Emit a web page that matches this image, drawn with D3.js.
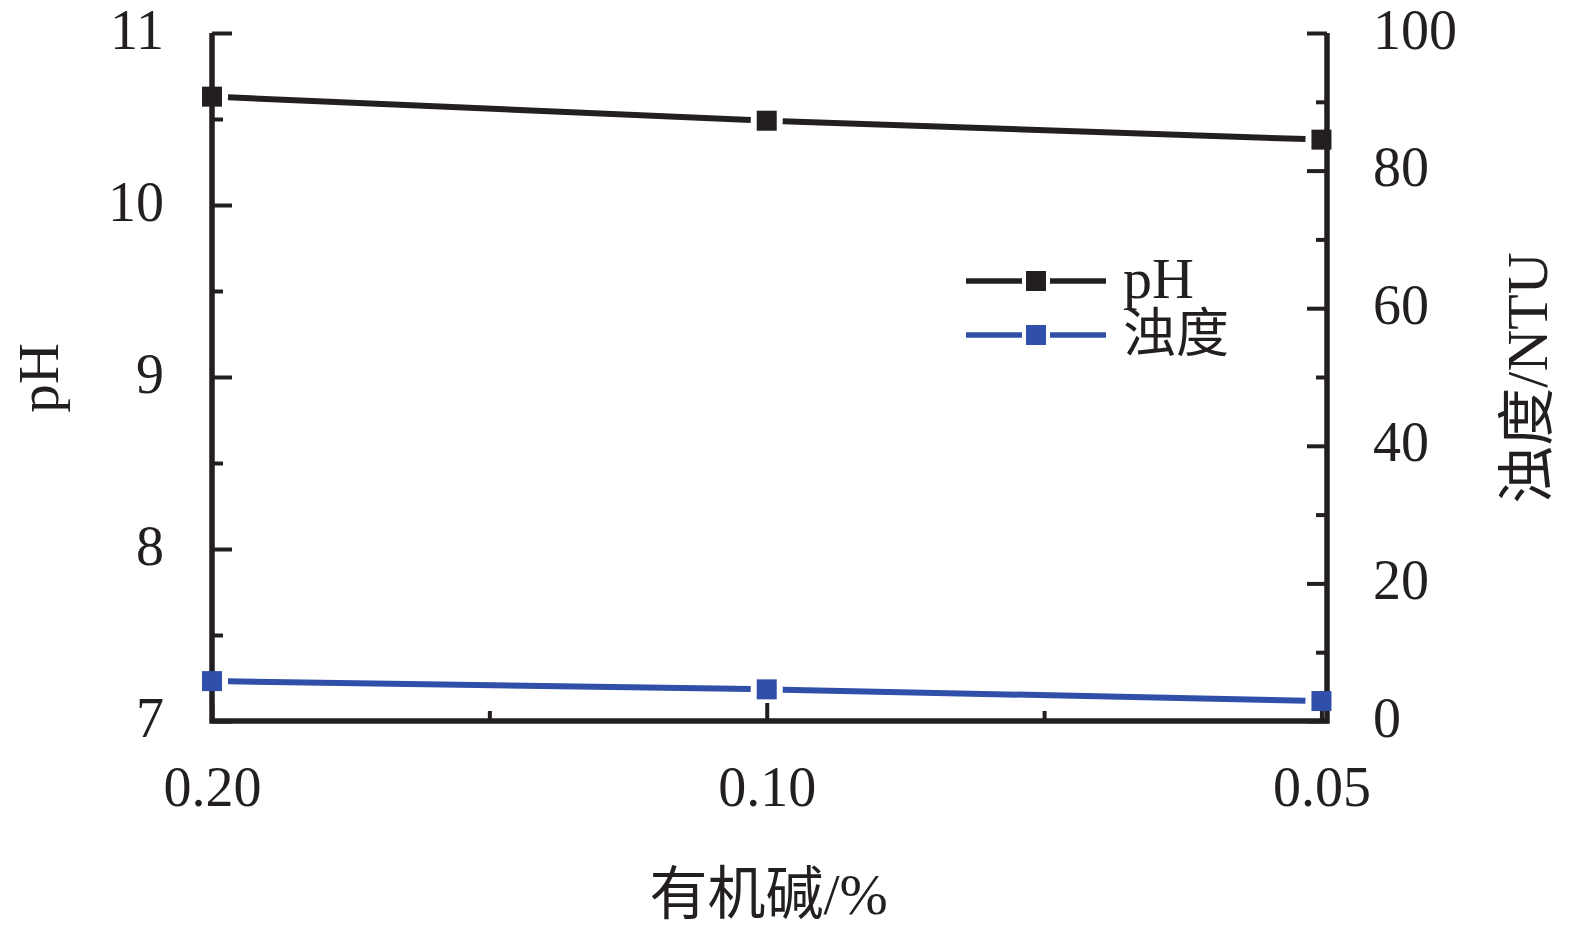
<!DOCTYPE html>
<html><head><meta charset="utf-8">
<script src="https://cdn.jsdelivr.net/npm/d3@7"></script>
<style>
body{margin:0;background:#fff}
text{font-family:"Liberation Serif","Times New Roman","Noto Sans CJK SC",serif;fill:#231f20}
</style></head>
<body><svg id="c" width="1575" height="936"></svg>
<script>
const categories = ["0.20", "0.10", "0.05"];
const phValues = [10.63, 10.49, 10.38];
const turbidityValues = [5.8, 4.6, 2.9];
const leftTicks = [7, 8, 9, 10, 11];
const leftMinor = [7.5, 8.5, 9.5, 10.5];
const rightTicks = [0, 20, 40, 60, 80, 100];
const rightMinor = [10, 30, 50, 70, 90];
const xMinor = [0.5, 1.5];
const seriesNames = ["pH", "浊度"];
const xTitle = "有机碱/%";
const yLeftTitle = "pH";
const yRightTitle = "浊度/NTU";

const BLACK = "#231f20", BLUE = "#2f4fa8";
const svg = d3.select("#c");
const x = d3.scaleLinear().domain([0, 2.01]).range([212, 1327]);
const yL = d3.scaleLinear().domain([7, 11]).range([721, 33]);
const yR = d3.scaleLinear().domain([0, 100]).range([721, 33]);
const FS = 56;

// frame (left, bottom, right)
const x0 = x(0), x1 = x(2.01), yb = yL(7), yt = yL(11);
svg.append("path")
  .attr("d", `M${x0},${yt}V${yb}H${x1}V${yt}`)
  .attr("fill", "none").attr("stroke", BLACK).attr("stroke-width", 5.5)
  .attr("stroke-linejoin", "miter");

function styleAxis(g) {
  g.select(".domain").remove();
  g.selectAll(".tick line").attr("stroke", BLACK).attr("stroke-width", 4);
  g.selectAll(".tick text").attr("font-size", FS).attr("fill", BLACK)
    .style("font-family", '"Liberation Serif","Times New Roman",serif');
}

// left axis
svg.append("g").attr("transform", `translate(${x0},0)`)
  .call(d3.axisLeft(yL).tickValues(leftTicks).tickSize(-20).tickSizeOuter(0).tickPadding(48).tickFormat(d3.format("d")))
  .call(styleAxis)
  .call(g => g.selectAll(".tick text").attr("dy", "0.27em"));
svg.append("g").attr("transform", `translate(${x0},0)`)
  .call(d3.axisLeft(yL).tickValues(leftMinor).tickSize(-11).tickSizeOuter(0).tickFormat(""))
  .call(styleAxis);

// right axis
svg.append("g").attr("transform", `translate(${x1},0)`)
  .call(d3.axisRight(yR).tickValues(rightTicks).tickSize(-20).tickSizeOuter(0).tickPadding(46).tickFormat(d3.format("d")))
  .call(styleAxis)
  .call(g => g.selectAll(".tick text").attr("dy", "0.27em"));
svg.append("g").attr("transform", `translate(${x1},0)`)
  .call(d3.axisRight(yR).tickValues(rightMinor).tickSize(-11).tickSizeOuter(0).tickFormat(""))
  .call(styleAxis);

// bottom axis
svg.append("g").attr("transform", `translate(0,${yb})`)
  .call(d3.axisBottom(x).tickValues([0, 1, 2]).tickSize(-18).tickSizeOuter(0).tickPadding(0).tickFormat(i => categories[i]))
  .call(styleAxis)
  .call(g => g.selectAll(".tick text").attr("dy", null).attr("y", 85));
svg.append("g").attr("transform", `translate(0,${yb})`)
  .call(d3.axisBottom(x).tickValues(xMinor).tickSize(-10).tickSizeOuter(0).tickFormat(""))
  .call(styleAxis);

// titles
svg.append("text").attr("x", x(1) + 2).attr("y", 914).attr("text-anchor", "middle")
  .attr("font-size", 58).text(xTitle);
svg.append("text").attr("transform", "translate(58,378) rotate(-90)")
  .attr("text-anchor", "middle").attr("font-size", 57).text(yLeftTitle);
svg.append("text").attr("transform", "translate(1547,378) rotate(-90)")
  .attr("text-anchor", "middle").attr("font-size", 58).text(yRightTitle);

// series
const MS = 20, GAP = 16, LW = 6;
function drawSeries(vals, yScale, color) {
  const pts = vals.map((v, i) => [x(i), yScale(v)]);
  const g = svg.append("g");
  for (let i = 0; i < pts.length - 1; i++) {
    const [ax, ay] = pts[i], [bx, by] = pts[i + 1];
    const L = Math.hypot(bx - ax, by - ay), ux = (bx - ax) / L, uy = (by - ay) / L;
    g.append("line")
      .attr("x1", ax + ux * GAP).attr("y1", ay + uy * GAP)
      .attr("x2", bx - ux * GAP).attr("y2", by - uy * GAP)
      .attr("stroke", color).attr("stroke-width", LW);
  }
  g.selectAll("rect").data(pts).join("rect")
    .attr("x", d => d[0] - MS / 2).attr("y", d => d[1] - MS / 2)
    .attr("width", MS).attr("height", MS).attr("fill", color);
}
drawSeries(phValues, yL, BLACK);
drawSeries(turbidityValues, yR, BLUE);

// legend
const legend = [
  {name: seriesNames[0], color: BLACK, y: 281, ty: 298, fs: 58},
  {name: seriesNames[1], color: BLUE, y: 335, ty: 352, fs: 53}
];
const lg = svg.append("g");
legend.forEach(d => {
  lg.append("line").attr("x1", 966).attr("x2", 1022).attr("y1", d.y).attr("y2", d.y)
    .attr("stroke", d.color).attr("stroke-width", 5.5);
  lg.append("line").attr("x1", 1050).attr("x2", 1106).attr("y1", d.y).attr("y2", d.y)
    .attr("stroke", d.color).attr("stroke-width", 5.5);
  lg.append("rect").attr("x", 1036 - MS / 2).attr("y", d.y - MS / 2)
    .attr("width", MS).attr("height", MS).attr("fill", d.color);
  lg.append("text").attr("x", 1123).attr("y", d.ty).attr("font-size", d.fs).text(d.name);
});
</script></body></html>
